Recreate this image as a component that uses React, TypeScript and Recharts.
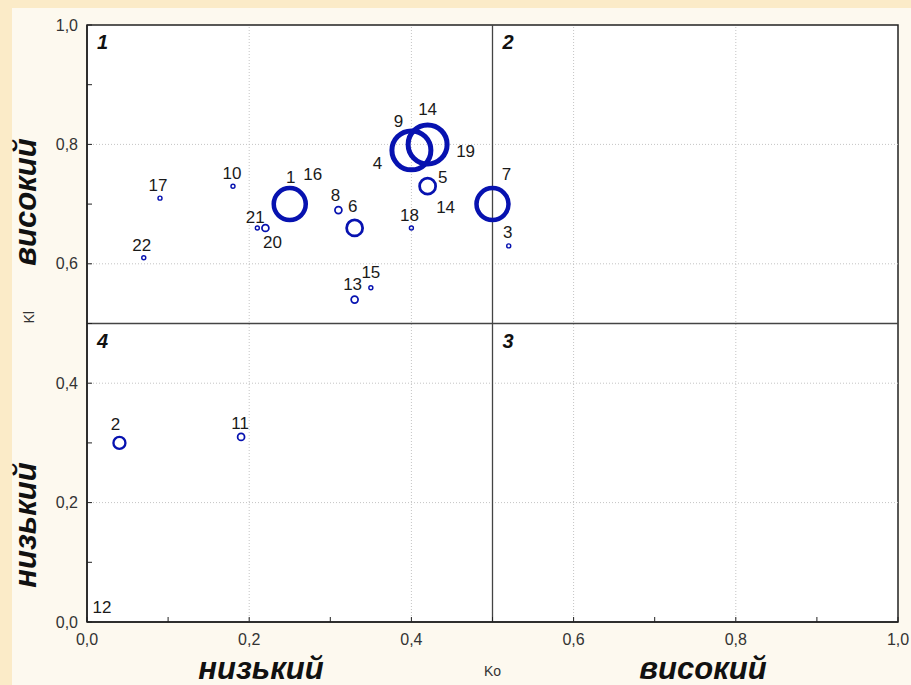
import { ScatterChart, Scatter, XAxis, YAxis, ZAxis, ReferenceLine, ReferenceArea } from "recharts"

// points in the order they are drawn; some ids share a spot (label only)
const POINT_IDS = ["1", "16", "2", "3", "4", "9", "14", "19", "5", "14", "6", "7", "8", "10", "11", "12", "13", "15", "17", "18", "20", "21", "22"]
const KO_VALUES = [0.25, 0.25, 0.04, 0.52, 0.40, 0.40, 0.42, 0.42, 0.42, 0.42, 0.33, 0.50, 0.31, 0.18, 0.19, 0.0, 0.33, 0.35, 0.09, 0.40, 0.22, 0.21, 0.07]
const KL_VALUES = [0.70, 0.70, 0.30, 0.63, 0.79, 0.79, 0.80, 0.80, 0.73, 0.73, 0.66, 0.70, 0.69, 0.73, 0.31, 0.0, 0.54, 0.56, 0.71, 0.66, 0.66, 0.66, 0.61]
const BUBBLE_SIZES = [256, 0, 36, 4, 380, 0, 380, 0, 64, 0, 64, 256, 12, 4, 12, 0, 12, 4, 4, 4, 12, 4, 4]

const AXIS_TICKS = [0, 0.1, 0.2, 0.3, 0.4, 0.5, 0.6, 0.7, 0.8, 0.9, 1]
const GRID_VALUES = [0.2, 0.4, 0.6, 0.8]
const SPLIT = 0.5
const QUADRANT_NAMES = ["1", "2", "3", "4"]
const LOW_TEXT = "низький"
const HIGH_TEXT = "високий"

// label position relative to the bubble centre, same order as POINT_IDS
const LABEL_OFFSETS: [number, number][] = [
  [1, -27], [23, -30], [-4, -18], [-1, -13], [-34, 13], [-13, -29], [0, -35], [38, 7],
  [15, -9], [18, 21], [-2, -21], [14, -30], [-3, -15], [-1, -13], [-1, -13], [15, -15],
  [-2, -15], [0, -15], [-2, -13], [-2, -12], [7, 15], [-2, -10], [-2, -12],
]

const data = POINT_IDS.map((id, i) => ({
  id,
  idx: i,
  ko: KO_VALUES[i],
  kl: KL_VALUES[i],
  size: BUBBLE_SIZES[i],
}))

// quadrant boxes: 1 top-left, 2 top-right, 3 bottom-right, 4 bottom-left
const quadrants = QUADRANT_NAMES.map((name, i) => ({
  name,
  x1: i === 1 || i === 2 ? SPLIT : 0,
  x2: i === 1 || i === 2 ? 1 : SPLIT,
  y1: i < 2 ? SPLIT : 0,
  y2: i < 2 ? 1 : SPLIT,
}))

const FONT = "'Liberation Sans', Arial, sans-serif"
const BLUE = "#0712b0"

const fmtTick = (v: number) =>
  Math.round(v * 10) % 2 === 0 ? v.toFixed(1).replace(".", ",") : ""

function Bubble(props: any) {
  const { cx, cy, width, size, payload } = props
  const r = width ? width / 2 : Math.sqrt((size || 0) / Math.PI)
  const [dx, dy] = LABEL_OFFSETS[payload.idx]
  const sw = Math.max(1.3, Math.min(5, 1 + r * 0.22))
  return (
    <g>
      {r > 0.5 && <circle cx={cx} cy={cy} r={r} fill="none" stroke={BLUE} strokeWidth={sw} />}
      <text x={cx + dx} y={cy + dy} textAnchor="middle" dominantBaseline="central" fontSize={17} fill="#1a1a1a">
        {payload.id}
      </text>
    </g>
  )
}

const bigWord: React.CSSProperties = {
  position: "absolute",
  fontFamily: FONT,
  fontWeight: 700,
  fontStyle: "italic",
  fontSize: 31,
  color: "#111",
  lineHeight: 1,
  whiteSpace: "nowrap",
  transform: "translate(-50%, -50%)",
}

export default function App() {
  return (
    <div style={{ position: "relative", width: 911, height: 685, background: "#fbebc8", overflow: "hidden", fontFamily: FONT }}>
      <style>{"body{margin:0}"}</style>
      <div style={{ position: "absolute", left: 12, top: 8, right: 0, bottom: 0, background: "#fdf9ef" }} />
      <div style={{ position: "absolute", left: 87, top: 25, width: 811, height: 597, background: "#fff" }} />
      <div style={{ position: "absolute", left: 0, top: 0 }}>
        <ScatterChart width={911} height={685} margin={{ top: 25, right: 13, bottom: 33, left: 47 }} style={{ fontFamily: FONT }}>
          <XAxis
            type="number"
            dataKey="ko"
            domain={[0, 1]}
            ticks={AXIS_TICKS}
            tickFormatter={fmtTick}
            height={30}
            tickSize={-5}
            tickMargin={17}
            interval={0}
            axisLine={{ stroke: "#222", strokeWidth: 1.5 }}
            tickLine={{ stroke: "#222" }}
            tick={{ fontSize: 16, fill: "#333" }}
            label={{ value: "Ko", position: "bottom", offset: 14, fontSize: 14, fill: "#333" }}
          />
          <YAxis
            type="number"
            dataKey="kl"
            domain={[0, 1]}
            ticks={AXIS_TICKS}
            tickFormatter={fmtTick}
            width={40}
            tickSize={-5}
            tickMargin={14}
            interval={0}
            axisLine={{ stroke: "#222", strokeWidth: 1.5 }}
            tickLine={{ stroke: "#222" }}
            tick={{ fontSize: 16, fill: "#333" }}
            label={{ value: "Kl", angle: -90, position: "insideLeft", offset: -18, fontSize: 14, fill: "#333" }}
          />
          <ZAxis type="number" dataKey="size" domain={[0, 400]} range={[0, 400 * Math.PI]} />
          {GRID_VALUES.map((v) => (
            <ReferenceLine key={"gx" + v} x={v} stroke="#c4c4c4" strokeDasharray="1 2" />
          ))}
          {GRID_VALUES.map((v) => (
            <ReferenceLine key={"gy" + v} y={v} stroke="#c4c4c4" strokeDasharray="1 2" />
          ))}
          <ReferenceLine x={SPLIT} stroke="#444" strokeWidth={1.3} />
          <ReferenceLine y={SPLIT} stroke="#444" strokeWidth={1.3} />
          {quadrants.map((q) => (
            <ReferenceArea
              key={q.name}
              x1={q.x1}
              x2={q.x2}
              y1={q.y1}
              y2={q.y2}
              fill="none"
              stroke="none"
              label={{ value: q.name, position: "insideTopLeft", offset: 10, fontSize: 20, fontWeight: 700, fontStyle: "italic", fill: "#111" }}
            />
          ))}
          <ReferenceArea x1={0} x2={1} y1={0} y2={1} fill="none" stroke="#222" strokeWidth={1.5} />
          <Scatter data={data} shape={<Bubble />} isAnimationActive={false} />
        </ScatterChart>
      </div>
      <div style={{ ...bigWord, left: 261, top: 668 }}>{LOW_TEXT}</div>
      <div style={{ ...bigWord, left: 703, top: 668 }}>{HIGH_TEXT}</div>
      <div style={{ ...bigWord, left: 25, top: 202, transform: "translate(-50%, -50%) rotate(-90deg)" }}>{HIGH_TEXT}</div>
      <div style={{ ...bigWord, left: 25, top: 525, transform: "translate(-50%, -50%) rotate(-90deg)" }}>{LOW_TEXT}</div>
    </div>
  )
}
